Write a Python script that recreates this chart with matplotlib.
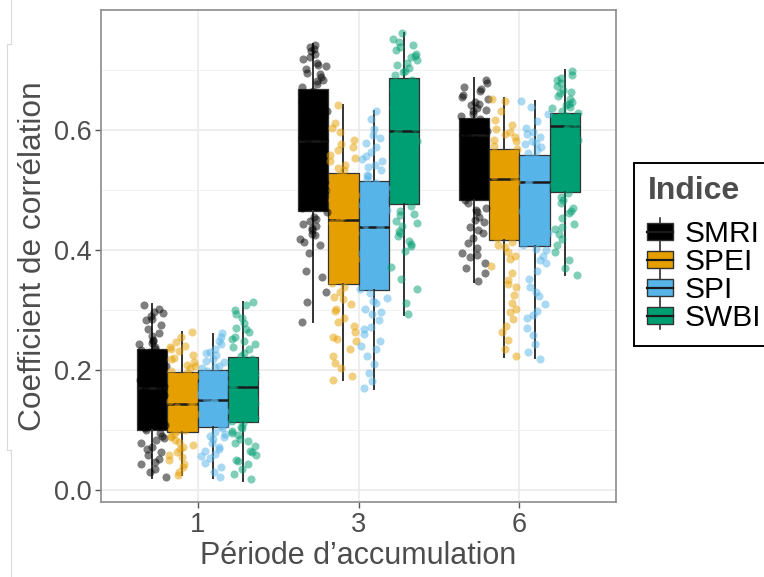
import numpy as np
import matplotlib
matplotlib.use("Agg")
import matplotlib.pyplot as plt
from matplotlib.patches import Patch, Rectangle
from matplotlib.lines import Line2D
from matplotlib.legend_handler import HandlerBase

plt.rcParams['font.family'] = ['Liberation Sans', 'DejaVu Sans']

periods = ["1", "3", "6"]
indices = ["SMRI", "SPEI", "SPI", "SWBI"]
colors = ["#000000", "#E69F00", "#56B4E9", "#009E73"]

# box statistics: (whisker low, Q1, median, Q3, whisker high), one per period
smri_box = [(0.020, 0.101, 0.170, 0.236, 0.310), (0.280, 0.466, 0.582, 0.668, 0.743), (0.347, 0.483, 0.592, 0.620, 0.687)]
spei_box = [(0.025, 0.097, 0.144, 0.197, 0.264), (0.183, 0.344, 0.451, 0.528, 0.642), (0.222, 0.417, 0.519, 0.568, 0.653)]
spi_box = [(0.020, 0.106, 0.151, 0.200, 0.260), (0.169, 0.333, 0.438, 0.516, 0.631), (0.220, 0.407, 0.513, 0.558, 0.649)]
swbi_box = [(0.016, 0.113, 0.172, 0.222, 0.314), (0.292, 0.477, 0.599, 0.686, 0.761), (0.358, 0.497, 0.606, 0.629, 0.700)]

# individual correlation values (approximate, read from the jittered points)
smri_1 = [0.308, 0.302, 0.297, 0.291, 0.283, 0.276, 0.262, 0.257, 0.251, 0.248, 0.243, 0.239, 0.236, 0.231, 0.228,
          0.222, 0.219, 0.211, 0.207, 0.201, 0.196, 0.188, 0.183, 0.179, 0.174, 0.171, 0.168, 0.163, 0.158, 0.152,
          0.147, 0.141, 0.137, 0.131, 0.126, 0.118, 0.114, 0.109, 0.104, 0.101, 0.096, 0.091, 0.083, 0.078, 0.072,
          0.064, 0.052, 0.043, 0.031, 0.022, 0.295, 0.285, 0.268, 0.245, 0.233, 0.087, 0.069, 0.058, 0.047, 0.036]
spei_1 = [0.264, 0.256, 0.247, 0.241, 0.238, 0.232, 0.226, 0.221, 0.214, 0.209, 0.204, 0.199, 0.196, 0.191, 0.186,
          0.178, 0.172, 0.167, 0.161, 0.155, 0.149, 0.146, 0.142, 0.138, 0.133, 0.127, 0.122, 0.117, 0.112, 0.106,
          0.101, 0.098, 0.094, 0.088, 0.081, 0.076, 0.069, 0.063, 0.058, 0.051, 0.044, 0.038, 0.031, 0.026,
          0.235, 0.218, 0.207, 0.091, 0.084, 0.072, 0.055]
spi_1 = [0.262, 0.255, 0.249, 0.243, 0.236, 0.231, 0.226, 0.219, 0.213, 0.207, 0.203, 0.199, 0.194, 0.188, 0.181,
         0.176, 0.171, 0.166, 0.159, 0.154, 0.151, 0.147, 0.143, 0.138, 0.132, 0.127, 0.121, 0.116, 0.111, 0.107,
         0.103, 0.097, 0.091, 0.085, 0.079, 0.072, 0.066, 0.061, 0.054, 0.046, 0.038, 0.031, 0.022,
         0.228, 0.216, 0.205, 0.094, 0.088, 0.069, 0.057]
swbi_1 = [0.314, 0.308, 0.301, 0.293, 0.287, 0.279, 0.271, 0.263, 0.256, 0.249, 0.243, 0.236, 0.229, 0.224, 0.219,
          0.211, 0.204, 0.196, 0.189, 0.181, 0.176, 0.172, 0.168, 0.161, 0.153, 0.146, 0.138, 0.129, 0.121, 0.116,
          0.112, 0.106, 0.099, 0.092, 0.086, 0.079, 0.073, 0.066, 0.059, 0.051, 0.044, 0.036, 0.027, 0.018,
          0.268, 0.252, 0.239, 0.103, 0.095, 0.082, 0.063, 0.048]

smri_3 = [0.742, 0.738, 0.731, 0.726, 0.718, 0.712, 0.706, 0.701, 0.695, 0.689, 0.684, 0.677, 0.671, 0.665, 0.659,
          0.652, 0.646, 0.638, 0.631, 0.622, 0.614, 0.605, 0.597, 0.589, 0.583, 0.578, 0.569, 0.558, 0.547, 0.536,
          0.524, 0.512, 0.501, 0.491, 0.482, 0.471, 0.463, 0.456, 0.448, 0.441, 0.434, 0.427, 0.418, 0.409, 0.396,
          0.365, 0.356, 0.331, 0.314, 0.281, 0.735, 0.722, 0.709, 0.693, 0.681, 0.452, 0.444, 0.437, 0.425, 0.414]
spei_3 = [0.642, 0.612, 0.603, 0.596, 0.584, 0.577, 0.566, 0.558, 0.549, 0.541, 0.533, 0.526, 0.518, 0.509, 0.501,
          0.492, 0.483, 0.474, 0.466, 0.457, 0.451, 0.446, 0.437, 0.428, 0.419, 0.408, 0.397, 0.386, 0.374, 0.363,
          0.352, 0.345, 0.339, 0.331, 0.322, 0.311, 0.298, 0.287, 0.274, 0.263, 0.256, 0.248, 0.236, 0.224, 0.212,
          0.204, 0.191, 0.184, 0.572, 0.553, 0.537, 0.318, 0.302, 0.281, 0.252]
spi_3 = [0.631, 0.619, 0.602, 0.592, 0.586, 0.578, 0.571, 0.563, 0.556, 0.548, 0.541, 0.533, 0.526, 0.519, 0.512,
         0.503, 0.494, 0.486, 0.476, 0.467, 0.457, 0.444, 0.438, 0.432, 0.421, 0.409, 0.396, 0.384, 0.371, 0.359,
         0.347, 0.336, 0.329, 0.321, 0.312, 0.302, 0.293, 0.284, 0.272, 0.261, 0.249, 0.236, 0.224, 0.211, 0.196,
         0.182, 0.170, 0.552, 0.538, 0.523, 0.316, 0.297, 0.268, 0.241]
swbi_3 = [0.761, 0.752, 0.746, 0.739, 0.733, 0.727, 0.721, 0.716, 0.709, 0.703, 0.697, 0.691, 0.684, 0.676, 0.668,
          0.657, 0.648, 0.639, 0.629, 0.621, 0.612, 0.604, 0.598, 0.591, 0.581, 0.569, 0.556, 0.542, 0.528, 0.513,
          0.498, 0.486, 0.474, 0.465, 0.458, 0.449, 0.441, 0.432, 0.424, 0.416, 0.407, 0.398, 0.372, 0.352, 0.336,
          0.312, 0.293, 0.742, 0.724, 0.712, 0.699, 0.461, 0.445, 0.428, 0.411]

smri_6 = [0.684, 0.678, 0.671, 0.665, 0.659, 0.652, 0.646, 0.641, 0.636, 0.631, 0.627, 0.623, 0.618, 0.614, 0.609,
          0.604, 0.599, 0.595, 0.591, 0.585, 0.577, 0.566, 0.553, 0.541, 0.528, 0.514, 0.502, 0.491, 0.484, 0.478,
          0.471, 0.463, 0.455, 0.447, 0.438, 0.429, 0.421, 0.412, 0.404, 0.396, 0.388, 0.379, 0.371, 0.362, 0.349,
          0.668, 0.655, 0.643, 0.633, 0.467, 0.451, 0.434, 0.392]
spei_6 = [0.652, 0.648, 0.631, 0.617, 0.608, 0.601, 0.594, 0.588, 0.581, 0.574, 0.568, 0.562, 0.556, 0.549, 0.541,
          0.532, 0.524, 0.519, 0.514, 0.506, 0.496, 0.484, 0.471, 0.458, 0.446, 0.433, 0.421, 0.413, 0.406, 0.397,
          0.386, 0.374, 0.362, 0.351, 0.338, 0.326, 0.312, 0.297, 0.286, 0.274, 0.263, 0.251, 0.236, 0.223,
          0.597, 0.583, 0.409, 0.391, 0.344, 0.302]
spi_6 = [0.649, 0.638, 0.627, 0.615, 0.604, 0.597, 0.589, 0.581, 0.576, 0.571, 0.566, 0.561, 0.555, 0.549, 0.541,
         0.532, 0.523, 0.516, 0.511, 0.503, 0.492, 0.479, 0.466, 0.453, 0.441, 0.428, 0.416, 0.408, 0.402, 0.391,
         0.379, 0.366, 0.352, 0.338, 0.324, 0.311, 0.298, 0.287, 0.271, 0.258, 0.244, 0.231, 0.219,
         0.593, 0.579, 0.401, 0.384, 0.331, 0.292]
swbi_6 = [0.699, 0.692, 0.686, 0.679, 0.673, 0.667, 0.661, 0.656, 0.651, 0.646, 0.641, 0.636, 0.632, 0.628, 0.624,
          0.619, 0.614, 0.609, 0.605, 0.601, 0.594, 0.583, 0.569, 0.553, 0.538, 0.522, 0.508, 0.496, 0.488, 0.479,
          0.471, 0.462, 0.453, 0.444, 0.436, 0.427, 0.418, 0.409, 0.397, 0.384, 0.371, 0.359,
          0.683, 0.664, 0.644, 0.638, 0.484, 0.466, 0.439]

boxes = [smri_box, spei_box, spi_box, swbi_box]
points = [[smri_1, smri_3, smri_6], [spei_1, spei_3, spei_6],
          [spi_1, spi_3, spi_6], [swbi_1, swbi_3, swbi_6]]


class BoxHandler(HandlerBase):
    # legend key that looks like a small boxplot
    def create_artists(self, legend, orig_handle, xdescent, ydescent, width, height, fontsize, trans):
        fc = orig_handle.get_facecolor()
        x0, y0 = -xdescent, -ydescent
        cx = x0 + width / 2
        wl = Line2D([cx, cx], [y0 - 0.3 * height, y0 + 1.3 * height], color="#333333", lw=1.2, transform=trans)
        r = Rectangle((x0, y0), width, height, facecolor=fc, edgecolor="#333333", lw=1.0, transform=trans)
        ml = Line2D([x0, x0 + width], [y0 + height / 2] * 2, color="#1a1a1a", lw=1.6, transform=trans)
        return [wl, r, ml]


fig = plt.figure(figsize=(7.64, 5.77), dpi=100)
ax = fig.add_axes([101 / 764, 1 - 502 / 577, 515 / 764, 492 / 577])

n_idx = len(indices)
bw = 0.75 / n_idx
xpos = np.arange(1, len(periods) + 1)

for i, (name, col) in enumerate(zip(indices, colors)):
    offs = (i - (n_idx - 1) / 2) * bw
    stats = []
    for lo, q1, med, q3, hi in boxes[i]:
        stats.append(dict(whislo=lo, q1=q1, med=med, q3=q3, whishi=hi, fliers=[]))
    ax.bxp(stats, positions=xpos + offs, widths=bw, patch_artist=True, showcaps=False, showfliers=False,
           boxprops=dict(facecolor=col, edgecolor="#333333", lw=0.9),
           medianprops=dict(color="#1a1a1a", lw=1.8),
           whiskerprops=dict(color="#333333", lw=1.4), zorder=2)
    for j, vals in enumerate(points[i]):
        k = np.arange(len(vals)) + 97 * i + 31 * j
        u = (np.sin(k * 12.9898 + 78.233) * 43758.5453) % 1  # deterministic jitter
        jit = (u - 0.5) * 2 * 0.085
        ax.scatter(xpos[j] + offs + jit, vals, s=34, color=col, alpha=0.5, linewidths=0, zorder=3)

ax.set_xlim(0.4, 3.6)
ax.set_ylim(-0.0195, 0.80)
ax.set_xticks(xpos)
ax.set_xticklabels(periods)
ax.set_yticks([0.0, 0.2, 0.4, 0.6])
ax.set_yticklabels(["0.0", "0.2", "0.4", "0.6"])
ax.set_yticks([0.1, 0.3, 0.5, 0.7], minor=True)
ax.grid(True, which="major", color="#EBEBEB", lw=1.2, zorder=0)
ax.grid(True, which="minor", axis="y", color="#F2F2F2", lw=0.7, zorder=0)
ax.set_axisbelow(True)
ax.tick_params(which="major", length=4, width=1, color="#555555", labelsize=19.5, labelcolor="#4D4D4D", pad=3)
ax.tick_params(which="minor", length=0)
for sp in ax.spines.values():
    sp.set_color("#8C8C8C")
    sp.set_linewidth(1.2)

ax.set_xlabel("Période d\u2019accumulation", fontsize=22, color="#4D4D4D", labelpad=2)
ax.set_ylabel("Coefficient de corrélation", fontsize=22.8, color="#4D4D4D", labelpad=4)

handles = [Patch(facecolor=c, edgecolor="#333333", label=n) for n, c in zip(indices, colors)]
leg = fig.legend(handles=handles, loc="upper left", bbox_to_anchor=(634 / 764, 1 - 163 / 577),
                 handler_map={Patch: BoxHandler()}, title="Indice", fontsize=21.5,
                 title_fontproperties=dict(weight="bold", size=23), alignment="left",
                 frameon=True, fancybox=False, edgecolor="#000000", framealpha=1,
                 handlelength=0.85, handleheight=0.5, handletextpad=0.4, labelspacing=0.0,
                 borderpad=0.45, borderaxespad=0)
leg._legend_box.sep = 10
leg.get_title().set_color("#4D4D4D")
leg.get_frame().set_linewidth(1.4)

# faint border lines at the left edge of the original screenshot
for xs, ys in [([11, 11], [0, 44]), ([7, 11], [44, 44]), ([7, 7], [44, 450]), ([7, 11], [450, 450]), ([11, 11], [450, 577])]:
    fig.add_artist(Line2D([x / 764 for x in xs], [1 - y / 577 for y in ys], color="#DADADA", lw=0.8))

fig.savefig("out.png", dpi=100)
